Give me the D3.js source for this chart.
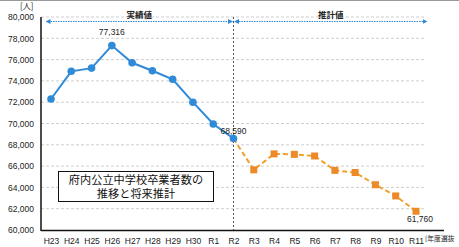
<!DOCTYPE html>
<html>
<head>
<meta charset="utf-8">
<script src="https://cdn.jsdelivr.net/npm/d3@7"></script>
<style>
body { margin: 0; background: #fff; }
text { font-family: "Liberation Sans", Arial, sans-serif; }
.jp { font-family: "Noto Sans CJK JP", sans-serif; }
</style>
</head>
<body>
<script>
var width = 459,
    height = 247;

// data
var years = ["H23","H24","H25","H26","H27","H28","H29","H30","R1","R2",
             "R3","R4","R5","R6","R7","R8","R9","R10","R11"];
var actual = [72300, 74900, 75200, 77316, 75700, 74950, 74150, 72000, 69950, 68590];
var projected = [68590, 65650, 67150, 67100, 66950, 65600, 65400, 64250, 63200, 61760];
var yTicks = [60000, 62000, 64000, 66000, 68000, 70000, 72000, 74000, 76000, 78000, 80000];

var svg = d3.select("body").append("svg")
    .attr("width", width)
    .attr("height", height);

var x = d3.scalePoint()
    .domain(years)
    .range([51, 416]);

var y = d3.scaleLinear()
    .domain([60000, 80000])
    .range([230, 17]);

var fmt = d3.format(",");

// frame line at top
svg.append("line")
    .attr("x1", 0).attr("x2", width).attr("y1", 0.5).attr("y2", 0.5)
    .attr("stroke", "#999").attr("stroke-width", 1);

// grid
svg.append("g")
    .selectAll("line")
    .data(yTicks.slice(1))
    .enter().append("line")
    .attr("x1", 41).attr("x2", 426)
    .attr("y1", function(d) { return y(d); })
    .attr("y2", function(d) { return y(d); })
    .attr("stroke", "#cfcfcf")
    .attr("stroke-dasharray", "3,2");

// y axis
var yAxis = svg.append("g")
    .attr("transform", "translate(41,0)")
    .call(d3.axisLeft(y).tickValues(yTicks).tickSize(0).tickPadding(7)
        .tickFormat(function(d) { return fmt(d); }));
yAxis.select(".domain").remove();
yAxis.selectAll("text").attr("font-size", 8.5).attr("fill", "#222");

svg.append("line")
    .attr("x1", 41).attr("x2", 41).attr("y1", 17).attr("y2", 231)
    .attr("stroke", "#111").attr("stroke-width", 1.5);

// x axis
var xAxis = svg.append("g")
    .attr("transform", "translate(0,230)")
    .call(d3.axisBottom(x).tickSize(0).tickPadding(8));
xAxis.select(".domain").remove();
xAxis.selectAll("text").attr("font-size", 8.5).attr("fill", "#222");

svg.append("line")
    .attr("x1", 41).attr("x2", 444).attr("y1", 230.5).attr("y2", 230.5)
    .attr("stroke", "#111").attr("stroke-width", 1.5);

svg.append("text")
    .attr("class", "jp")
    .attr("x", 425).attr("y", 241)
    .attr("font-size", 6.8)
    .attr("fill", "#222")
    .text("[年度選抜");

svg.append("text")
    .attr("class", "jp")
    .attr("x", 20).attr("y", 9)
    .attr("font-size", 8).attr("fill", "#222")
    .text("[人]");

// divider at R2
svg.append("line")
    .attr("x1", x("R2")).attr("x2", x("R2"))
    .attr("y1", 17).attr("y2", 230)
    .attr("stroke", "#555").attr("stroke-width", 1)
    .attr("stroke-dasharray", "2,2");

// arrows for 実績値 / 推計値
var defs = svg.append("defs");
defs.append("marker")
    .attr("id", "arr")
    .attr("viewBox", "0 0 10 10")
    .attr("refX", 5).attr("refY", 5)
    .attr("markerWidth", 5).attr("markerHeight", 5)
    .attr("orient", "auto-start-reverse")
    .append("path")
    .attr("d", "M0,0L10,5L0,10Z")
    .attr("fill", "#2f8ad8");

var spans = [
  {label: "実績値", x1: 48, x2: x("R2") - 3},
  {label: "推計値", x1: x("R2") + 3, x2: 425}
];
spans.forEach(function(s) {
  svg.append("line")
    .attr("x1", s.x1).attr("x2", s.x2).attr("y1", 21.5).attr("y2", 21.5)
    .attr("stroke", "#2f8ad8").attr("stroke-width", 1)
    .attr("stroke-dasharray", "1.5,1")
    .attr("marker-start", "url(#arr)")
    .attr("marker-end", "url(#arr)");
  svg.append("text")
    .attr("class", "jp")
    .attr("x", (s.x1 + s.x2) / 2).attr("y", 18)
    .attr("text-anchor", "middle")
    .attr("font-size", 8.5).attr("font-weight", "bold").attr("fill", "#222")
    .text(s.label);
});

// projected series (orange, dashed)
var projYears = years.slice(9);
var line = d3.line()
    .x(function(d) { return x(d[0]); })
    .y(function(d) { return y(d[1]); });

var projPts = projYears.map(function(d, i) { return [d, projected[i]]; });
svg.append("path")
    .datum(projPts)
    .attr("d", line)
    .attr("fill", "none")
    .attr("stroke", "#f0a02a")
    .attr("stroke-width", 2)
    .attr("stroke-dasharray", "5,3");

svg.selectAll("rect.proj")
    .data(projPts.slice(1))
    .enter().append("rect")
    .attr("class", "proj")
    .attr("x", function(d) { return x(d[0]) - 3.5; })
    .attr("y", function(d) { return y(d[1]) - 3.5; })
    .attr("width", 7).attr("height", 7)
    .attr("fill", "#ec8a2a");

// actual series (blue)
var actPts = years.slice(0, 10).map(function(d, i) { return [d, actual[i]]; });
svg.append("path")
    .datum(actPts)
    .attr("d", line)
    .attr("fill", "none")
    .attr("stroke", "#2f8ad8")
    .attr("stroke-width", 2);

svg.selectAll("circle.act")
    .data(actPts)
    .enter().append("circle")
    .attr("class", "act")
    .attr("cx", function(d) { return x(d[0]); })
    .attr("cy", function(d) { return y(d[1]); })
    .attr("r", 3.8)
    .attr("fill", "#2f8ad8");

// value labels
var labels = [
  {yr: "H26", v: 77316, dx: 0, dy: -11, anchor: "middle"},
  {yr: "R2", v: 68590, dx: -13, dy: -5, anchor: "start"},
  {yr: "R11", v: 61760, dx: 4, dy: 11, anchor: "middle"}
];
svg.selectAll("text.val")
    .data(labels)
    .enter().append("text")
    .attr("class", "val")
    .attr("x", function(d) { return x(d.yr) + d.dx; })
    .attr("y", function(d) { return y(d.v) + d.dy; })
    .attr("text-anchor", function(d) { return d.anchor; })
    .attr("font-size", 8.5).attr("fill", "#222")
    .text(function(d) { return fmt(d.v); });

// title box
svg.append("rect")
    .attr("x", 58.5).attr("y", 171.5)
    .attr("width", 155).attr("height", 30)
    .attr("fill", "#fff").attr("stroke", "#111").attr("stroke-width", 1);

["府内公立中学校卒業者数の", "推移と将来推計"].forEach(function(t, i) {
  svg.append("text")
    .attr("class", "jp")
    .attr("x", 136).attr("y", 184 + i * 14)
    .attr("text-anchor", "middle")
    .attr("font-size", 11.2).attr("fill", "#111")
    .text(t);
});
</script>
</body>
</html>
